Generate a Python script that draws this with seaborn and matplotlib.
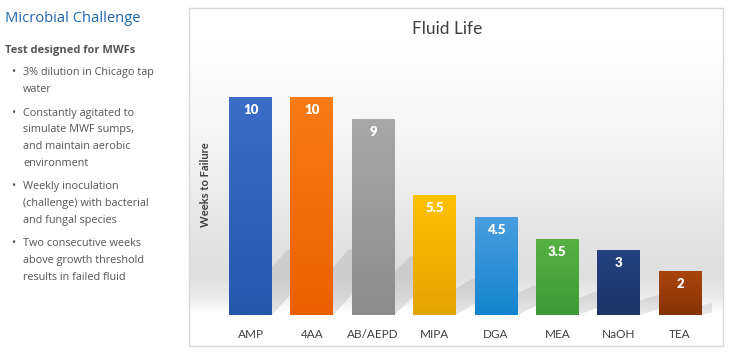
import numpy as np
import pandas as pd
import seaborn as sns
import matplotlib.pyplot as plt
from matplotlib.patches import Polygon
from matplotlib.colors import to_rgb

sns.set_theme(style="white")
plt.rcParams['font.family'] = ['Lato', 'DejaVu Sans']

# data
fluids = ['AMP', '4AA', 'AB/AEPD', 'MIPA', 'DGA', 'MEA', 'NaOH', 'TEA']
weeks = [10, 10, 9, 5.5, 4.5, 3.5, 3, 2]
value_labels = ['10', '10', '9', '5.5', '4.5', '3.5', '3', '2']
top_colors = ['#3B6DC7', '#F87B16', '#A8A8A8', '#FFC100', '#4A9EDF', '#57B143', '#234282', '#A8450C']
bottom_colors = ['#2857AE', '#EC5F00', '#8C8C8C', '#E2A400', '#1384CF', '#3D9A36', '#1B3566', '#883205']

side_title = 'Microbial Challenge'
side_head = 'Test designed for MWFs'
bullets = [
    ['3% dilution in Chicago tap', 'water'],
    ['Constantly agitated to', 'simulate MWF sumps,', 'and maintain aerobic', 'environment'],
    ['Weekly inoculation', '(challenge) with bacterial', 'and fungal species'],
    ['Two consecutive weeks', 'above growth threshold', 'results in failed fluid'],
]

W, H = 730, 355
fig = plt.figure(figsize=(W / 100, H / 100), dpi=100)
fig.patch.set_facecolor('white')

# chart box with soft grey band behind the bars
box = (189, 8, 723, 346)
bg = fig.add_axes([box[0] / W, 1 - box[3] / H, (box[2] - box[0]) / W, (box[3] - box[1]) / H])
rows = np.arange(box[1], box[3])
shade = np.interp(rows, [8, 55, 150, 240, 275, 298, 312, 346],
                  [1.0, 0.995, 0.955, 0.89, 0.875, 0.93, 1.0, 1.0])
bg.imshow(np.repeat(shade[:, None], 3, axis=1)[:, :, None] * np.ones(3)[None, None, :],
          aspect='auto', extent=[0, 1, 0, 1], interpolation='bilinear')
bg.set_xlim(0, 1)
bg.set_ylim(0, 1)
bg.set_xticks([])
bg.set_yticks([])
for s in bg.spines.values():
    s.set_color('#d9d9d9')
    s.set_linewidth(1.0)

# main axes
ax = fig.add_axes([195 / W, 1 - 315 / H, 517 / W, 265 / H])
ax.set_facecolor('none')
df = pd.DataFrame({'fluid': fluids, 'weeks': weeks})
sns.barplot(data=df, x='fluid', y='weeks', hue='fluid', palette=top_colors,
            width=0.7, legend=False, ax=ax, saturation=1, zorder=3,
            linewidth=0, edgecolor='none')
ax.set_xlim(-0.905, 7.52)
ax.set_ylim(0, 12.16)

# gradient fill and soft cast shadow for each bar
for i, p in enumerate(ax.patches):
    x0, w, h = p.get_x(), p.get_width(), p.get_height()
    c1, c2 = np.array(to_rgb(top_colors[i])), np.array(to_rgb(bottom_colors[i]))
    t = np.linspace(0, 1, 64)[:, None]
    grad = (c1 * (1 - t) + c2 * t)[:, None, :]
    im = ax.imshow(grad, aspect='auto', extent=[x0, x0 + w, 0, h], zorder=4,
                   interpolation='bilinear')
    im.set_clip_path(p)
    shadow = Polygon([(x0, 0), (x0 + w, 0), (x0 + w + 0.95, h * 0.3), (x0 + 0.95, h * 0.3)],
                     closed=True, facecolor='#777777', alpha=0.18, edgecolor='none', zorder=2)
    ax.add_patch(shadow)
    ax.text(x0 + w / 2, h - 0.6, value_labels[i], ha='center', va='center',
            color='white', fontsize=9.5, fontweight='heavy', zorder=5)

ax.set_xlabel('')
ax.set_ylabel('Weeks to Failure', fontsize=8, fontweight='bold', color='#404040')
ax.yaxis.set_label_coords((211 - 195) / 517, (315 - 185) / 265)
ax.set_yticks([])
ax.tick_params(axis='x', length=0, pad=10, labelsize=8.5, labelcolor='#404040')
sns.despine(ax=ax, left=True, bottom=True)
fig.text(447 / W, 1 - 29 / H, 'Fluid Life', ha='center', va='center', fontsize=12.5, color='#404040')

# left side description
side_font = ['Open Sans', 'DejaVu Sans']
fig.text(5 / W, 1 - 19 / H, side_title, ha='left', va='center', fontsize=10.6,
         color='#1D66AE', family=side_font)
fig.text(5 / W, 1 - 51 / H, side_head, ha='left', va='center', fontsize=8,
         fontweight='bold', color='#555555', family=side_font)
y = 73
for lines in bullets:
    fig.text(11 / W, 1 - y / H, '•', ha='left', va='center', fontsize=8,
             color='#555555', family=side_font)
    for ln in lines:
        fig.text(23 / W, 1 - y / H, ln, ha='left', va='center', fontsize=7.8,
                 color='#555555', family=side_font)
        y += 16.8
    y += 6.5

fig.savefig('out.png', dpi=100, facecolor='white')
